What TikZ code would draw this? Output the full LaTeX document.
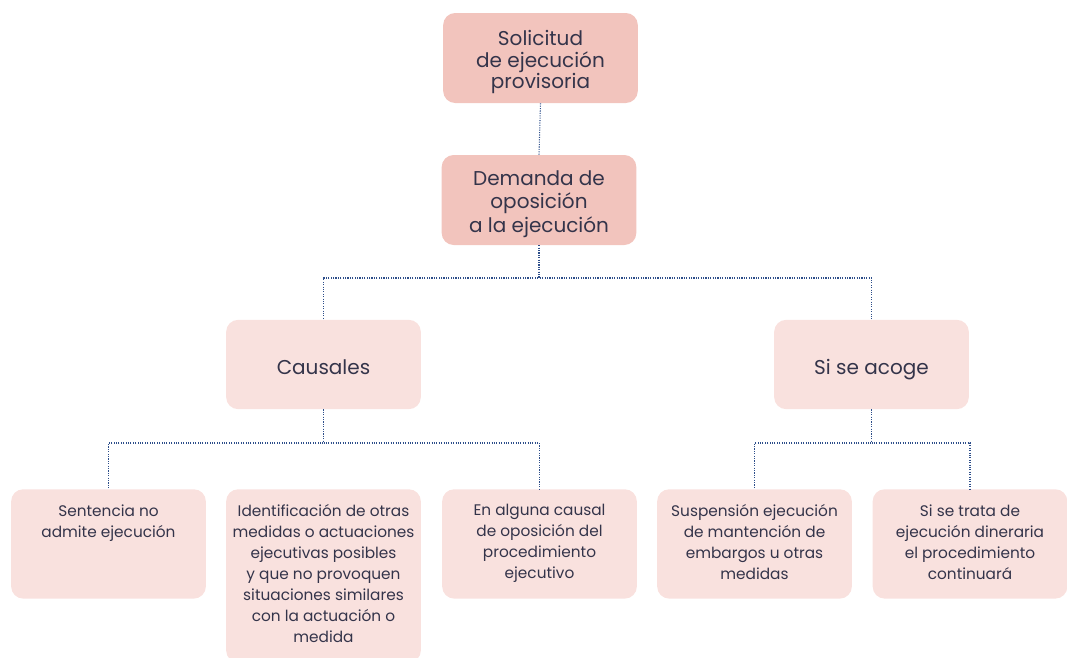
\documentclass[tikz,border=0pt]{standalone}
\usepackage{fontspec}
\setmainfont{Poppins}
\usetikzlibrary{positioning}

\definecolor{darkpink}{HTML}{F2C4BD}
\definecolor{lightpink}{HTML}{F9E1DE}
\definecolor{linkblue}{HTML}{2D4E8A}
\definecolor{inkgrey}{HTML}{34344A}

\begin{document}
\begin{tikzpicture}[x=0.75pt,y=-0.75pt,
  every node/.style={align=center,text=inkgrey},
  topbox/.style={fill=darkpink,rounded corners=9pt,minimum width=146pt,minimum height=67.5pt,font=\fontsize{15}{17}\selectfont},
  midbox/.style={fill=lightpink,rounded corners=9pt,minimum width=146pt,minimum height=67pt,font=\fontsize{15}{17}\selectfont},
  lowbox/.style={fill=lightpink,rounded corners=9pt,minimum width=146pt,minimum height=82pt,anchor=north},
  lowtext/.style={anchor=north,font=\fontsize{11.5}{15.8}\selectfont},
  link/.style={draw=linkblue,densely dotted,line width=0.8pt}]
\clip (0,0) rectangle (1067,657);
\node [topbox] (Solicitud) at (540.5,58) {};
\node [topbox] (Demanda) at (539,200) {};
\node [midbox] (Causales) at (323.5,364.5) {};
\node [midbox] (Acoge) at (871.5,364.5) {};
\node [lowbox] (Sentencia) at (108.5,489) {};
\node [lowbox,minimum height=130pt] (Identificacion) at (323.5,489) {};
\node [lowbox] (Causal) at (539.5,489) {};
\node [lowbox] (Suspension) at (754.5,489) {};
\node [lowbox] (Dineraria) at (970,489) {};
% texts
\node [font=\fontsize{15}{16.2}\selectfont] (SolicitudText) at (540.5,62) {Solicitud\\de ejecución\\provisoria};
\node [font=\fontsize{15}{17.6}\selectfont] (DemandaText) at (539,204) {Demanda de\\oposición\\a la ejecución};
\node [font=\fontsize{15}{17}\selectfont,anchor=base] (CausalesText) at (323.5,374) {Causales};
\node [font=\fontsize{15}{17}\selectfont,anchor=base] (AcogeText) at (871.5,374) {Si se acoge};
\node [lowtext,below=8pt of Sentencia.north] (SentenciaText) {Sentencia no\\admite ejecución};
\node [lowtext,below=8pt of Identificacion.north] (IdentificacionText) {Identificación de otras\\medidas o actuaciones\\ejecutivas posibles\\y que no provoquen\\situaciones similares\\con la actuación o\\medida};
\node [lowtext,below=8pt of Causal.north] (CausalText) {En alguna causal\\de oposición del\\procedimiento\\ejecutivo};
\node [lowtext,below=8pt of Suspension.north] (SuspensionText) {Suspensión ejecución\\de mantención de\\embargos u otras\\medidas};
\node [lowtext,below=8pt of Dineraria.north] (DinerariaText) {Si se trata de\\ejecución dineraria\\el procedimiento\\continuará};
% connectors
\draw [link] (Solicitud.south) -- (Demanda.north);
\draw [link] (Demanda.south) |- (Causales.north |- 0,278) -- (Causales.north);
\draw [link] (Demanda.south) |- (Acoge.north |- 0,278) -- (Acoge.north);
\draw [link] (Causales.south) |- (Sentencia.north |- 0,443) -- (Sentencia.north);
\draw [link] (Causales.south) |- (Causal.north |- 0,443) -- (Causal.north);
\draw [link] (Acoge.south) |- (Suspension.north |- 0,443) -- (Suspension.north);
\draw [link] (Acoge.south) |- (Dineraria.north |- 0,443) -- (Dineraria.north);
\end{tikzpicture}
\end{document}
